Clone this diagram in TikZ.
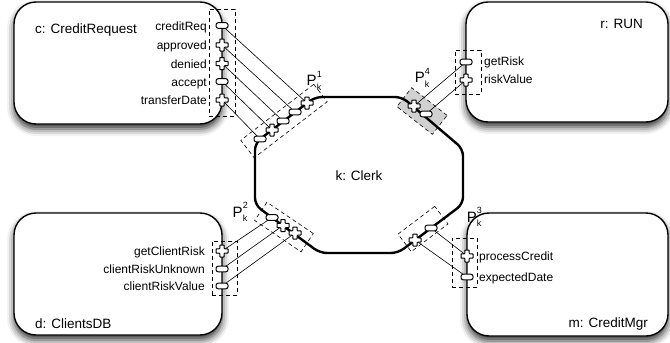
\documentclass[tikz,border=0pt]{standalone}
\usepackage{fontspec}
\setmainfont{Liberation Sans}
\usetikzlibrary{shadows.blur}

\tikzset{
  compbox/.style={draw, line width=1.4pt, rounded corners=22pt, fill=white, inner sep=0pt,
    blur shadow={shadow xshift=0pt, shadow yshift=-5pt, shadow blur radius=7pt, shadow opacity=80}},
  title/.style={font=\fontsize{13.5}{15}\selectfont, inner sep=0pt},
  plabel/.style={font=\fontsize{12}{14}\selectfont, inner sep=0pt},
  ptag/.style={font=\fontsize{15}{16}\selectfont, inner sep=0pt},
  wire/.style={line width=0.6pt},
  strip/.style={draw, line width=0.6pt, dash pattern=on 4pt off 3pt, inner sep=0pt},
  clerkline/.style={line width=2.4pt, rounded corners=7pt, line join=round},
  portmark/.style={draw, line width=1pt, fill=white},
  pics/plusport/.style={code={
    \draw[portmark, rounded corners=0.6pt] (-2.2,-6) -- (2.2,-6) -- (2.2,-2.2) -- (6,-2.2) -- (6,2.2)
      -- (2.2,2.2) -- (2.2,6) -- (-2.2,6) -- (-2.2,2.2) -- (-6,2.2) -- (-6,-2.2) -- (-2.2,-2.2) -- cycle;}},
  pics/minusport/.style={code={
    \draw[portmark, rounded corners=2.2pt] (-6,-2.8) rectangle (6,2.8);}},
}

\newcommand{\ptagtext}[1]{P\rlap{\raisebox{0.55em}{\fontsize{9}{9}\selectfont #1}}\raisebox{-0.3em}{\fontsize{9}{9}\selectfont k}}

\begin{document}
\begin{tikzpicture}[x=1pt, y=-1pt]
\useasboundingbox (0,0) rectangle (670,343);

% components
\node[compbox, minimum width=208pt, minimum height=122pt] (c) at (118,63) {};
\node[compbox, minimum width=208pt, minimum height=122pt] (d) at (118,274) {};
\node[compbox, minimum width=202pt, minimum height=120pt] (r) at (567,62) {};
\node[compbox, minimum width=201pt, minimum height=123pt] (m) at (567.5,274.5) {};

\node[title, anchor=base west] (ct) at (35,33.5) {c: CreditRequest};
\node[title, anchor=base west] (dt) at (35,328) {d: ClientsDB};
\node[title, anchor=base east] (rt) at (643,28) {r: RUN};
\node[title, anchor=base east] (mt) at (648,327) {m: CreditMgr};

% port groups on the components
\node[strip, minimum width=26pt, minimum height=107pt] (cs) at (222,62.5) {};
\node[strip, minimum width=26pt, minimum height=44pt] (rs) at (468,72) {};
\node[strip, minimum width=25pt, minimum height=54pt] (ds) at (224.5,268) {};
\node[strip, minimum width=25pt, minimum height=49pt] (ms) at (464.5,262.5) {};

% port groups on the clerk
\node[strip, minimum width=92pt, minimum height=22pt, rotate=37.5] (p1) at (284,121) {};
\node[strip, minimum width=56pt, minimum height=22pt, rotate=-34] (p2) at (284,227) {};
\node[strip, minimum width=46pt, minimum height=22pt, rotate=37] (p3) at (423,229) {};
\node[strip, fill=black!18, minimum width=45pt, minimum height=24pt, rotate=-38] (p4) at (422,111) {};

% clerk
\draw[clerkline] (315,97) -- (402,97) -- (463,149) -- (463,204) -- (398,253) -- (320,253)
  -- (255,205) -- (255,143) -- cycle;
\node[title, anchor=base] (k) at (359,180) {k: Clerk};

\node[ptag] (t1) at (314,81) {\ptagtext{1}};
\node[ptag] (t2) at (240,212) {\ptagtext{2}};
\node[ptag] (t3) at (474,217) {\ptagtext{3}};
\node[ptag] (t4) at (422,78) {\ptagtext{4}};

% port positions
\coordinate (cA) at (222,25.5);
\coordinate (cB) at (222,45);
\coordinate (cC) at (222,63.5);
\coordinate (cD) at (222,81.5);
\coordinate (cE) at (222,100);
\coordinate (k1a) at (307,103);
\coordinate (k1b) at (295,112);
\coordinate (k1c) at (283,121);
\coordinate (k1d) at (272,130);
\coordinate (k1e) at (260,139);

\coordinate (rA) at (466,62);
\coordinate (rB) at (466,80);
\coordinate (k4a) at (414,106);
\coordinate (k4b) at (426,114);

\coordinate (dA) at (222,251);
\coordinate (dB) at (222,269);
\coordinate (dC) at (222,286);
\coordinate (k2a) at (272,217.5);
\coordinate (k2b) at (283,225.5);
\coordinate (k2c) at (295,233);

\coordinate (mA) at (467,256);
\coordinate (mB) at (467,277);
\coordinate (k3a) at (431,228);
\coordinate (k3b) at (415,240);

% port labels
\node[plabel, anchor=base east] (lcA) at (207,30) {creditReq};
\node[plabel, anchor=base east] (lcB) at (207,49.5) {approved};
\node[plabel, anchor=base east] (lcC) at (207,68) {denied};
\node[plabel, anchor=base east] (lcD) at (207,86) {accept};
\node[plabel, anchor=base east] (lcE) at (207,104.5) {transferDate};
\node[plabel, anchor=base west] (lrA) at (484,65) {getRisk};
\node[plabel, anchor=base west] (lrB) at (484,83.5) {riskValue};
\node[plabel, anchor=base east] (ldA) at (205,255.5) {getClientRisk};
\node[plabel, anchor=base east] (ldB) at (205,273.5) {clientRiskUnknown};
\node[plabel, anchor=base east] (ldC) at (205,290.5) {clientRiskValue};
\node[plabel, anchor=base west] (lmA) at (479,260.5) {processCredit};
\node[plabel, anchor=base west] (lmB) at (479,281) {expectedDate};

% connectors
\draw[wire] (cA) -- (k1a);
\draw[wire] (cB) -- (k1b);
\draw[wire] (cC) -- (k1c);
\draw[wire] (cD) -- (k1d);
\draw[wire] (cE) -- (k1e);
\draw[wire] (rA) -- (k4a);
\draw[wire] (rB) -- (k4b);
\draw[wire] (dA) -- (k2a);
\draw[wire] (dB) -- (k2b);
\draw[wire] (dC) -- (k2c);
\draw[wire] (mA) -- (k3a);
\draw[wire] (mB) -- (k3b);

% port symbols
\foreach \p in {cA,cD,k1b,k1c,k1e,rA,k4b,dB,dC,k2a,mB,k3a}
  \pic at (\p) {minusport};
\foreach \p in {cB,cC,cE,k1a,k1d,rB,k4a,dA,k2b,k2c,mA,k3b}
  \pic at (\p) {plusport};
\end{tikzpicture}
\end{document}
